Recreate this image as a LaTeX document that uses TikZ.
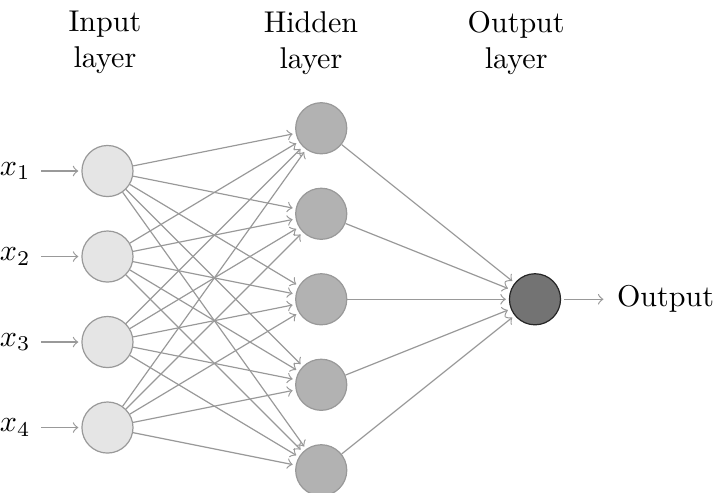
\documentclass[tikz,border=0pt]{standalone}
\usetikzlibrary{positioning}
\tikzset{
  neuron/.style={circle, minimum size=17pt, inner sep=0pt, draw=black!40},
  input neuron/.style={neuron, fill=black!10},
  hidden neuron/.style={neuron, fill=black!30},
  output neuron/.style={neuron, fill=black!55, draw=black!85},
  conn/.style={->, draw=black!40, shorten >=1pt},
  annot/.style={align=center}
}
\begin{document}
\begin{tikzpicture}
\useasboundingbox (-1.257,1.0) rectangle (7.187,-4.754);
% input layer, each neuron fed by its x
\foreach \y in {1,...,4}{
  \node[input neuron] (I-\y) at (0,-\y) {};
  \node[left=0.47cm of I-\y] (x-\y) {$x_{\y}$};
  \draw[conn] (x-\y) -- (I-\y);
}
% hidden layer
\foreach \y in {1,...,5}
  \node[hidden neuron] (H-\y) at (2.5,0.5-\y) {};
% output neuron and its label
\node[output neuron] (O) at (5,-2.5) {};
\node[right=0.53cm of O] (out) {Output};
\draw[conn, shorten <=1pt] (O) -- (out);
% every input goes to every hidden neuron
\foreach \i in {1,...,4}
  \foreach \j in {1,...,5}
    \draw[conn] (I-\i) -- (H-\j);
% every hidden neuron goes to the output
\foreach \j in {1,...,5}
  \draw[conn] (H-\j) -- (O);
% layer titles
\node[annot] (il) at (-0.03,0.5) {Input\\layer};
\node[annot] (hl) at (2.38,0.5) {Hidden\\layer};
\node[annot] (ol) at (4.78,0.5) {Output\\layer};
\end{tikzpicture}
\end{document}
